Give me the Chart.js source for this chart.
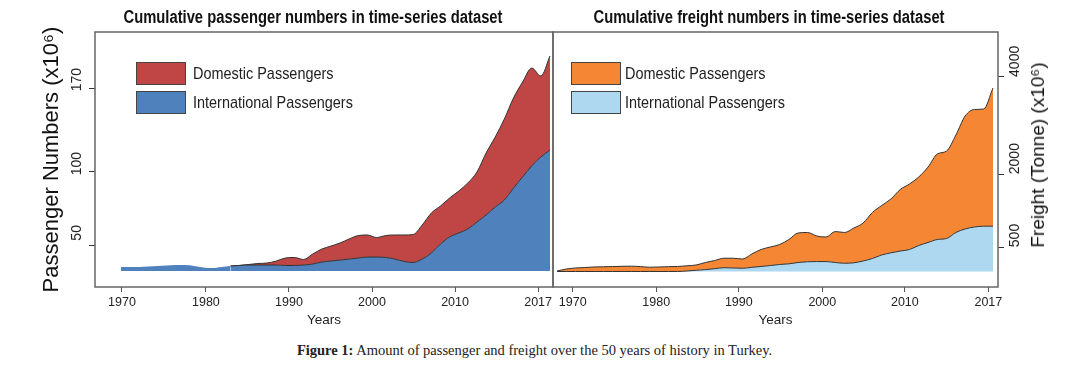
<!DOCTYPE html>
<html>
<head>
<meta charset="utf-8">
<title>Cumulative passenger and freight numbers</title>
<script src="https://cdn.jsdelivr.net/npm/chart.js@4.4.1/dist/chart.umd.min.js"></script>
<style>
    html, body { margin: 0; padding: 0; background: #fff; }
    #figure { position: relative; width: 1069px; height: 371px; overflow: hidden; }
    canvas { position: absolute; top: 0; }
    #passenger-chart { left: 0; }
    #freight-chart { left: 540px; }
    .panel-title {
        position: absolute; top: 7px; line-height: 20px;
        font: bold 18px "Liberation Sans", Arial, sans-serif;
        color: #111; white-space: nowrap; transform: translateX(-50%) scaleX(0.82);
    }
    #freight-axis-title {
        position: absolute; left: 1038px; top: 155px; white-space: nowrap;
        transform: translate(-50%, -50%) rotate(-90deg);
        font: 19px "Liberation Sans", Arial, sans-serif; color: #111;
    }
    #caption {
        position: absolute; top: 342px; left: 0; width: 1069px; line-height: 16px;
        text-align: center; font: 14.5px "Liberation Serif", "Times New Roman", serif; color: #222;
    }
</style>
</head>
<body>
<div id="figure">
    <canvas id="passenger-chart" width="560" height="335"></canvas>
    <canvas id="freight-chart" width="529" height="335"></canvas>
    <div class="panel-title" style="left:313px">Cumulative passenger numbers in time-series dataset</div>
    <div class="panel-title" style="left:769px">Cumulative freight numbers in time-series dataset</div>
    <div id="freight-axis-title">Freight (Tonne) (x10⁶)</div>
    <div id="caption"><b>Figure 1:</b> Amount of passenger and freight over the 50 years of history in Turkey.</div>
</div>

<script>
// years of the series
const years = [
    1970, 1971, 1972, 1973, 1974, 1975, 1976, 1977, 1978, 1979,
    1980, 1981, 1982, 1983, 1984, 1985, 1986, 1987, 1988, 1989,
    1990, 1991, 1992, 1993, 1994, 1995, 1996, 1997, 1998, 1999,
    2000, 2001, 2002, 2003, 2004, 2005, 2006, 2007, 2008, 2009,
    2010, 2011, 2012, 2013, 2014, 2015, 2016, 2017
];

// passengers (x10^6)
const intlPassengers = [
    3.6, 3.6, 3.6, 4.1, 4.5, 5.0, 5.4, 5.4, 4.5, 3.2,
    2.7, 3.6, 4.5, 5.0, 5.4, 5.4, 5.4, 5.4, 5.0, 5.0,
    5.4, 6.3, 8.1, 9.0, 9.9, 10.8, 11.7, 12.6, 12.6, 12.2,
    10.8, 8.6, 7.7, 10.8, 16.2, 24.3, 30.7, 34.3, 37.9, 44.2,
    50.5, 57.7, 64.0, 74.8, 84.8, 94.7, 102.8, 109.1
];
const domesticPassengers = [
    0, 0, 0, 0, 0, 0, 0, 0, 0, 0,
    0, 0, 0, 0.1, 0.5, 1.4, 1.8, 3.6, 6.7, 7.2,
    5.0, 9.0, 11.7, 13.5, 15.4, 18.1, 20.3, 19.9, 17.6, 19.8,
    21.7, 23.9, 25.2, 30.7, 36.1, 34.3, 35.1, 37.8, 41.5, 45.1,
    55.9, 63.1, 73.1, 81.2, 85.6, 88.3, 73.0, 84.8
];

// freight (tonne x10^6)
const intlFreight = [
    0, 0, 0, 0, 0, 0, 0, 0, 0, 0,
    0, 0, 0, 0, 10, 25, 39, 58, 78, 72,
    66, 86, 103, 123, 144, 158, 185, 201, 204, 204,
    185, 169, 179, 216, 267, 339, 384, 421, 452, 535,
    596, 658, 678, 802, 874, 915, 931, 931
];
const domesticFreight = [
    10, 51, 72, 82, 93, 97, 101, 107, 109, 101,
    88, 93, 99, 103, 107, 109, 146, 168, 195, 201,
    191, 274, 349, 381, 411, 500, 607, 601, 526, 505,
    637, 633, 715, 781, 946, 1018, 1107, 1265, 1347, 1408,
    1552, 1758, 1799, 2004, 2323, 2416, 2410, 2842
];

// axis labels as printed on the original figure, and where it prints them
const yearTickLabels = ['1970', '1980', '1990', '2000', '2010', '2017'];
const passengerYearTickAt = [1970.1, 1979.3, 1988.4, 1997.5, 2006.6, 2015.7];
const freightYearTickAt = [1971.7, 1980.7, 1989.6, 1998.6, 2007.5, 2016.5];
const passengerTickLabels = ['50', '100', '170'];
const passengerTickAt = [23.4, 89.3, 165.0];
const freightTicks = [500, 2000, 4000];

const REGULAR = '"Liberation Sans", Arial, sans-serif';

/**
 * box around the plot area plus the legend drawn inside it
 */
const frameAndLegend = {
    id: 'frameAndLegend',
    afterDatasetsDraw(chart, args, opts) {
        const { ctx, chartArea } = chart;
        ctx.save();
        ctx.strokeStyle = '#666';
        ctx.lineWidth = 1.5;
        ctx.strokeRect(chartArea.left, chartArea.top,
            chartArea.right - chartArea.left, chartArea.bottom - chartArea.top);

        const x = chartArea.left + opts.x;
        let y = chartArea.top + opts.y;
        ctx.font = '17px ' + REGULAR;
        ctx.textBaseline = 'middle';
        chart.data.datasets.slice().reverse().forEach(function(ds) {
            ctx.fillStyle = ds.backgroundColor;
            ctx.fillRect(x, y, 50, 23);
            ctx.strokeStyle = '#444';
            ctx.lineWidth = 1;
            ctx.strokeRect(x + 0.5, y + 0.5, 49, 22);
            // the original lettering is condensed
            ctx.save();
            ctx.translate(x + 50 + opts.gap, y + 12);
            ctx.scale(0.85, 1);
            ctx.fillStyle = '#222';
            ctx.fillText(ds.label, 0, 0);
            ctx.restore();
            y += 29;
        });
        ctx.restore();
    }
};

document.addEventListener('DOMContentLoaded', function() {
    createPassengerChart();
    createFreightChart();
});

function points(values) {
    return years.map(function(yr, i) { return { x: yr, y: values[i] }; });
}

function yearAxis(min, max, tickAt) {
    return {
        type: 'linear',
        min: min,
        max: max,
        afterBuildTicks: function(scale) {
            scale.ticks = tickAt.map(function(v) { return { value: v }; });
        },
        afterFit: function(scale) { scale.height = 48; },
        ticks: {
            autoSkip: false,
            maxRotation: 0,
            padding: 3,
            color: '#222',
            font: { family: REGULAR, size: 12.5 },
            callback: function(value, index) { return yearTickLabels[index]; }
        },
        grid: { drawOnChartArea: false, tickLength: 5, tickColor: '#555' },
        border: { display: false },
        title: {
            display: true,
            text: 'Years',
            color: '#222',
            font: { family: REGULAR, size: 13.5 },
            padding: { top: 0, bottom: 7 }
        }
    };
}

/**
 * left panel: passengers
 */
function createPassengerChart() {
    const canvas = document.getElementById('passenger-chart');
    // hide outlines where there is no domestic band yet
    const edge = function(c) {
        return (domesticPassengers[c.p0DataIndex] === 0 && domesticPassengers[c.p1DataIndex] === 0)
            ? 'rgba(0,0,0,0)' : '#333';
    };

    new Chart(canvas, {
        type: 'line',
        data: {
            datasets: [{
                label: 'International Passengers',
                data: points(intlPassengers),
                backgroundColor: '#4F81BD',
                borderColor: '#333',
                borderWidth: 1,
                fill: 'origin',
                pointRadius: 0,
                cubicInterpolationMode: 'monotone',
                segment: { borderColor: edge }
            }, {
                label: 'Domestic Passengers',
                data: points(domesticPassengers),
                backgroundColor: '#BF4644',
                borderColor: '#333',
                borderWidth: 1,
                fill: '-1',
                pointRadius: 0,
                cubicInterpolationMode: 'monotone',
                segment: { borderColor: edge }
            }]
        },
        options: {
            responsive: false,
            animation: false,
            layout: { padding: { left: 39, right: 7, top: 32, bottom: 0 } },
            plugins: {
                legend: { display: false },
                tooltip: { enabled: false },
                frameAndLegend: { x: 41, y: 30, gap: 7 }
            },
            scales: {
                x: yearAxis(1967.15, 2017.33, passengerYearTickAt),
                y: {
                    stacked: true,
                    min: -14.4,
                    max: 215.5,
                    afterBuildTicks: function(scale) {
                        scale.ticks = passengerTickAt.map(function(v) { return { value: v }; });
                    },
                    afterFit: function(scale) { scale.width = 56; },
                    ticks: {
                        minRotation: 90,
                        maxRotation: 90,
                        padding: 12,
                        labelOffset: -20,
                        color: '#222',
                        font: { family: REGULAR, size: 14 },
                        callback: function(value, index) { return passengerTickLabels[index]; }
                    },
                    grid: { drawOnChartArea: false, tickLength: 6, tickColor: '#333' },
                    border: { display: false },
                    title: {
                        display: true,
                        text: 'Passenger Numbers (x10⁶)',
                        color: '#111',
                        font: { family: REGULAR, size: 22 },
                        padding: { top: 0, bottom: 0 }
                    }
                }
            }
        },
        plugins: [frameAndLegend]
    });
}

/**
 * right panel: freight
 */
function createFreightChart() {
    const canvas = document.getElementById('freight-chart');

    new Chart(canvas, {
        type: 'line',
        data: {
            datasets: [{
                label: 'International Passengers',
                data: points(intlFreight),
                backgroundColor: '#AED8EF',
                borderColor: '#333',
                borderWidth: 1,
                fill: 'origin',
                pointRadius: 0,
                cubicInterpolationMode: 'monotone'
            }, {
                label: 'Domestic Passengers',
                data: points(domesticFreight),
                backgroundColor: '#F58634',
                borderColor: '#333',
                borderWidth: 1,
                fill: '-1',
                pointRadius: 0,
                cubicInterpolationMode: 'monotone'
            }]
        },
        options: {
            responsive: false,
            animation: false,
            layout: { padding: { left: 13, right: 21, top: 32, bottom: 0 } },
            plugins: {
                legend: { display: false },
                tooltip: { enabled: false },
                frameAndLegend: { x: 18, y: 30, gap: 4 }
            },
            scales: {
                x: yearAxis(1969.57, 2017.54, freightYearTickAt),
                y: {
                    position: 'right',
                    stacked: true,
                    min: -318.7,
                    max: 4924,
                    afterBuildTicks: function(scale) {
                        scale.ticks = freightTicks.map(function(v) { return { value: v }; });
                    },
                    afterFit: function(scale) { scale.width = 50; },
                    ticks: {
                        minRotation: 90,
                        maxRotation: 90,
                        padding: 11,
                        color: '#222',
                        font: { family: REGULAR, size: 14 },
                        callback: function(value) { return String(value); }
                    },
                    grid: { drawOnChartArea: false, tickLength: 6, tickColor: '#333' },
                    border: { display: false }
                }
            }
        },
        plugins: [frameAndLegend]
    });
}
</script>
</body>
</html>
